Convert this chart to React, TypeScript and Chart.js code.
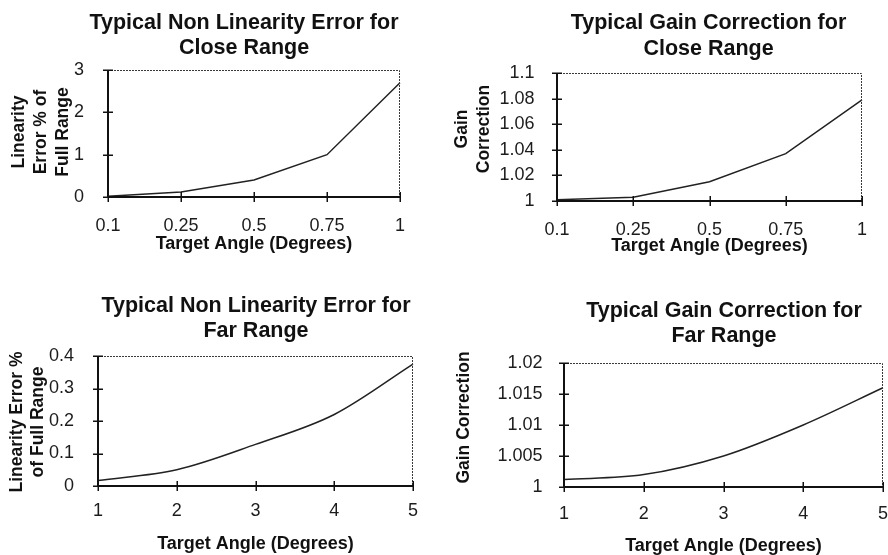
import { useEffect, useRef } from "react";
import { Chart, registerables } from "chart.js";

Chart.register(...registerables);

// Close range sweep (target angle in degrees)
const closeAngles = ["0.1", "0.25", "0.5", "0.75", "1"];
const closeLinearityError = [0.02, 0.12, 0.4, 1.0, 2.7];
const closeGainCorrection = [1.001, 1.003, 1.015, 1.037, 1.079];

// Far range sweep (target angle in degrees)
const farAngles = ["1", "2", "3", "4", "5"];
const farLinearityError = [0.017, 0.05, 0.128, 0.22, 0.375];
const farGainCorrection = [1.0012, 1.002, 1.005, 1.01, 1.016];

// Value-axis ticks
const closeLinearityTicks = [0, 1, 2, 3];
const closeGainTicks = [1, 1.02, 1.04, 1.06, 1.08, 1.1];
const farLinearityTicks = [0, 0.1, 0.2, 0.3, 0.4];
const farGainTicks = [1, 1.005, 1.01, 1.015, 1.02];

const FAMILY = "'Liberation Sans', Arial, Helvetica, sans-serif";
const INK = "#111111";
const HEADING_GAP = 25.5;
const Y_TITLE_GAP = 21.8;
const X_TITLE = "Target Angle (Degrees)";

type Box = { left: number; top: number; width: number; height: number };
type Rect = { left: number; top: number; right: number; bottom: number };

type Panel = {
  id: string;
  heading: string[];
  yTitle: string[];
  categories: string[];
  values: number[];
  yTicks: number[];
  smooth: boolean;
  box: Box; // canvas placement on the page
  plot: Rect; // plot area on the page
  headingAt: { x: number; y: number }; // canvas px, first baseline
  yTitleAt: { x: number; y: number }; // canvas px, middle of first line
  yTickPad: number;
  xTickPad: number;
  xTitlePad: number;
};

const panels: Panel[] = [
  {
    id: "close-linearity",
    heading: ["Typical Non Linearity Error for", "Close Range"],
    yTitle: ["Linearity", "Error % of", "Full Range"],
    categories: closeAngles,
    values: closeLinearityError,
    yTicks: closeLinearityTicks,
    smooth: false,
    box: { left: 0, top: 0, width: 444, height: 277 },
    plot: { left: 108, top: 70, right: 400, bottom: 197 },
    headingAt: { x: 244, y: 28.5 },
    yTitleAt: { x: 19.5, y: 132 },
    yTickPad: 16,
    xTickPad: 10.5,
    xTitlePad: 22.4,
  },
  {
    id: "close-gain",
    heading: ["Typical Gain Correction for", "Close Range"],
    yTitle: ["Gain", "Correction"],
    categories: closeAngles,
    values: closeGainCorrection,
    yTicks: closeGainTicks,
    smooth: false,
    box: { left: 444, top: 0, width: 444, height: 277 },
    plot: { left: 557, top: 73, right: 862, bottom: 201 },
    headingAt: { x: 264.5, y: 29 },
    yTitleAt: { x: 18.5, y: 129 },
    yTickPad: 14.5,
    xTickPad: 9.8,
    xTitlePad: 20.4,
  },
  {
    id: "far-linearity",
    heading: ["Typical Non Linearity Error for", "Far Range"],
    yTitle: ["Linearity Error %", "of Full Range"],
    categories: farAngles,
    values: farLinearityError,
    yTicks: farLinearityTicks,
    smooth: true,
    box: { left: 0, top: 277, width: 444, height: 278 },
    plot: { left: 98, top: 356, right: 413, bottom: 486 },
    headingAt: { x: 256, y: 34.5 },
    yTitleAt: { x: 16.8, y: 145 },
    yTickPad: 16,
    xTickPad: 6.1,
    xTitlePad: 0.4,
  },
  {
    id: "far-gain",
    heading: ["Typical Gain Correction for", "Far Range"],
    yTitle: ["Gain Correction"],
    categories: farAngles,
    values: farGainCorrection,
    yTicks: farGainTicks,
    smooth: true,
    box: { left: 444, top: 277, width: 444, height: 278 },
    plot: { left: 564, top: 363, right: 883, bottom: 487 },
    headingAt: { x: 280, y: 39.7 },
    yTitleAt: { x: 20, y: 140.5 },
    yTickPad: 13.5,
    xTickPad: 8.1,
    xTitlePad: -1.6,
  },
];

// Headings and rotated value-axis titles
function captionPlugin(p: Panel) {
  return {
    id: "captions",
    afterDraw(chart: any) {
      const ctx: CanvasRenderingContext2D = chart.ctx;
      ctx.save();
      ctx.fillStyle = INK;
      ctx.textAlign = "center";
      ctx.textBaseline = "alphabetic";
      ctx.font = `bold 21.5px ${FAMILY}`;
      p.heading.forEach((line, i) => {
        ctx.fillText(line, p.headingAt.x, p.headingAt.y + i * HEADING_GAP);
      });
      ctx.translate(p.yTitleAt.x, p.yTitleAt.y);
      ctx.rotate(-Math.PI / 2);
      ctx.font = `bold 17.5px ${FAMILY}`;
      ctx.textBaseline = "middle";
      p.yTitle.forEach((line, i) => {
        ctx.fillText(line, 0, i * Y_TITLE_GAP);
      });
      ctx.restore();
    },
  };
}

// Solid left/bottom axes with crossing tick marks, dotted top/right border
const framePlugin = {
  id: "frame",
  afterDatasetsDraw(chart: any) {
    const { ctx, chartArea: a, scales } = chart;
    const xs = scales.x;
    const ys = scales.y;
    ctx.save();
    ctx.strokeStyle = "#3a3a3a";
    ctx.lineWidth = 1;
    ctx.setLineDash([2, 1]);
    ctx.beginPath();
    ctx.moveTo(a.left, a.top + 0.5);
    ctx.lineTo(a.right - 0.5, a.top + 0.5);
    ctx.lineTo(a.right - 0.5, a.bottom);
    ctx.stroke();
    ctx.setLineDash([]);

    ctx.strokeStyle = INK;
    ctx.lineWidth = 2;
    ctx.beginPath();
    ctx.moveTo(a.left, a.top);
    ctx.lineTo(a.left, a.bottom);
    ctx.lineTo(a.right, a.bottom);
    ctx.stroke();

    ctx.lineWidth = 1.5;
    ctx.beginPath();
    ys.ticks.forEach((t: any) => {
      const py = Math.round(ys.getPixelForValue(t.value)) + 0.25;
      ctx.moveTo(a.left - 5, py);
      ctx.lineTo(a.left + 5, py);
    });
    xs.ticks.forEach((_t: any, i: number) => {
      const px = Math.round(xs.getPixelForTick(i)) + 0.25;
      ctx.moveTo(px, a.bottom - 5);
      ctx.lineTo(px, a.bottom + 5);
    });
    ctx.stroke();
    ctx.restore();
  },
};

const formatTick = (v: number | string) => String(Number(Number(v).toFixed(4)));

function buildConfig(p: Panel): any {
  const yWidth = p.plot.left - p.box.left;
  const xHeight = p.box.top + p.box.height - p.plot.bottom;
  const tickFont = { family: FAMILY, size: 18, weight: "normal" as const };
  return {
    type: "line",
    data: {
      labels: p.categories,
      datasets: [
        {
          data: p.values,
          borderColor: "#222222",
          borderWidth: 1.5,
          pointRadius: 0,
          fill: false,
          tension: 0,
          cubicInterpolationMode: p.smooth ? "monotone" : "default",
        },
      ],
    },
    options: {
      animation: false,
      responsive: false,
      maintainAspectRatio: false,
      events: [],
      layout: {
        padding: {
          top: p.plot.top - p.box.top,
          right: p.box.left + p.box.width - p.plot.right,
          bottom: 0,
          left: 0,
        },
      },
      plugins: {
        legend: { display: false },
        tooltip: { enabled: false },
        title: { display: false },
      },
      scales: {
        x: {
          type: "category",
          offset: false,
          grid: { display: false },
          border: { display: false },
          ticks: {
            autoSkip: false,
            maxRotation: 0,
            minRotation: 0,
            padding: p.xTickPad,
            color: "#1c1c1c",
            font: tickFont,
          },
          title: {
            display: true,
            text: X_TITLE,
            color: INK,
            font: { family: FAMILY, size: 18, weight: "bold" },
            padding: { top: 0, bottom: p.xTitlePad },
          },
          afterFit(scale: any) {
            scale.height = xHeight;
            scale.paddingLeft = 0;
            scale.paddingRight = 0;
          },
        },
        y: {
          type: "linear",
          min: p.yTicks[0],
          max: p.yTicks[p.yTicks.length - 1],
          grid: { display: false },
          border: { display: false },
          ticks: {
            autoSkip: false,
            padding: p.yTickPad,
            color: "#1c1c1c",
            font: tickFont,
            callback: (v: number) => formatTick(v),
          },
          afterBuildTicks(scale: any) {
            scale.ticks = p.yTicks.map((value) => ({ value }));
          },
          afterFit(scale: any) {
            scale.width = yWidth;
            scale.paddingTop = 0;
            scale.paddingBottom = 0;
          },
        },
      },
    },
    plugins: [captionPlugin(p), framePlugin],
  };
}

function ChartPanel({ panel }: { panel: Panel }) {
  const ref = useRef<HTMLCanvasElement>(null);
  useEffect(() => {
    if (!ref.current) return;
    const chart = new Chart(ref.current, buildConfig(panel));
    return () => chart.destroy();
  }, [panel]);
  const { left, top, width, height } = panel.box;
  return (
    <canvas
      ref={ref}
      width={width}
      height={height}
      style={{ position: "absolute", left, top, width, height, display: "block" }}
    />
  );
}

export default function App() {
  return (
    <div
      style={{
        position: "fixed",
        left: 0,
        top: 0,
        width: 888,
        height: 555,
        background: "#ffffff",
        overflow: "hidden",
      }}
    >
      {panels.map((p) => (
        <ChartPanel key={p.id} panel={p} />
      ))}
    </div>
  );
}
